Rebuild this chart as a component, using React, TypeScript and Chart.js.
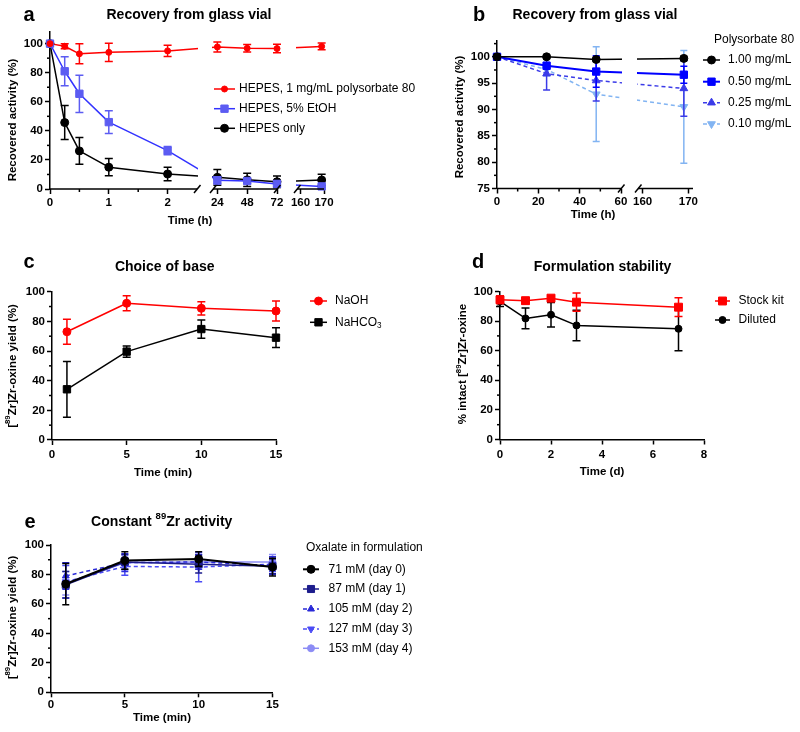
import React, { useEffect, useRef } from 'react';
import { Chart, registerables, LinearScale } from 'chart.js';

Chart.register(...registerables);

const FONT = '"Liberation Sans", Arial, Helvetica, sans-serif';
Chart.defaults.font.family = FONT;

// ---------------- Panel a : Recovery from glass vial ----------------
const A_TIME_H = [0, 0.25, 0.5, 1, 2, 24, 48, 72, 169];
const A_POLYSORBATE = [100, 98.2, 93, 94, 95, 97.7, 96.8, 96.6, 98.1];
const A_POLYSORBATE_ERR = [0, 1.8, 6.9, 6.3, 3.9, 3.5, 2.6, 2.9, 2.3];
const A_ETOH = [100, 81, 65.5, 46, 26.4, 6, 5.5, 3.5, 1.8];
const A_ETOH_ERR = [0, 10, 12.8, 7.8, 2.9, 2.5, 1.5, 2, 1];
const A_HEPES = [100, 45.7, 26.2, 15, 10.3, 8, 6.3, 5, 6.2];
const A_HEPES_ERR = [0, 11.7, 9.2, 5.9, 4.6, 5.5, 4.5, 4, 4];
const A_X_TICKS = [0, 1, 2, 24, 48, 72, 160, 170];
const A_X_MINOR = [0.5, 1.5];
const A_Y_TICKS = [0, 20, 40, 60, 80, 100];
const A_Y_MINOR = [10, 30, 50, 70, 90];

// ---------------- Panel b : Recovery from glass vial (polysorbate 80) ----------------
const B_TIME_H = [0, 24, 48, 169];
const B_PS_100 = [100, 100, 99.5, 99.7];
const B_PS_100_ERR = [0, 0.3, 0.4, 0.4];
const B_PS_050 = [100, 98.3, 97.2, 96.6];
const B_PS_050_ERR = [0, 0.6, 3, 1.6];
const B_PS_025 = [100, 96.8, 95.5, 94.0];
const B_PS_025_ERR = [0, 3.1, 3.9, 5.3];
const B_PS_010 = [100, 97.6, 92.9, 90.5];
const B_PS_010_ERR = [0, 1.2, 9, 10.7];
const B_X_TICKS = [0, 20, 40, 60, 160, 170];
const B_X_MINOR = [10, 30, 50];
const B_Y_TICKS = [75, 80, 85, 90, 95, 100];
const B_Y_MINOR = [77.5, 82.5, 87.5, 92.5, 97.5, 102.5];

// ---------------- Panel c : Choice of base ----------------
const C_TIME_MIN = [1, 5, 10, 15];
const C_NAOH = [73, 92.2, 88.8, 87];
const C_NAOH_ERR = [8.4, 5, 4.5, 6.7];
const C_NAHCO3 = [34.2, 59.6, 74.8, 69];
const C_NAHCO3_ERR = [18.8, 3.8, 6.2, 6.7];
const C_X_TICKS = [0, 5, 10, 15];

// ---------------- Panel d : Formulation stability ----------------
const D_TIME_D = [0, 1, 2, 3, 7];
const D_STOCK = [94.4, 93.8, 95.5, 92.8, 89.4];
const D_STOCK_ERR = [2.5, 2, 1.5, 6.2, 6.3];
const D_DILUTED = [93.3, 81.8, 84.3, 77.1, 74.8];
const D_DILUTED_ERR = [3.5, 7, 8.3, 10.3, 14.9];
const D_X_TICKS = [0, 2, 4, 6, 8];

// ---------------- Panel e : Constant 89Zr activity ----------------
const E_TIME_MIN = [1, 5, 10, 15];
const E_DAY0 = [73.5, 89.5, 90.5, 85];
const E_DAY0_ERR = [14, 6, 5, 6];
const E_DAY1 = [73, 88.5, 87, 85.5];
const E_DAY1_ERR = [9, 5, 6, 5];
const E_DAY2 = [79, 88, 88.5, 86];
const E_DAY2_ERR = [9, 6, 5, 6];
const E_DAY3 = [75, 85.5, 85, 87];
const E_DAY3_ERR = [11, 6, 10, 5];
const E_DAY4 = [74, 88, 88.5, 88.5];
const E_DAY4_ERR = [8, 5, 5, 5];

const Y_TICKS_100 = [0, 20, 40, 60, 80, 100];
const Y_MINOR_100 = [10, 30, 50, 70, 90];

// broken-axis segments: [valueMin, valueMax, fractionStart, fractionEnd] of the axis length
const A_SEGS = [[0, 2.5, 0, 147 / 274], [20.5, 72, 163 / 274, 227 / 274], [158.5, 170, 247 / 274, 1]];
const B_SEGS = [[0, 60, 0, 124 / 196], [159, 171, 141 / 196, 1]];

function valueToFraction(segs: number[][], v: number) {
  const n = segs.length;
  for (let i = 0; i < n; i++) {
    const [a, b, fa, fb] = segs[i];
    if (v <= b || i === n - 1) {
      if (v >= a || i === 0) return fa + ((v - a) / (b - a)) * (fb - fa);
      const pb = segs[i - 1][1];
      const pfb = segs[i - 1][3];
      return pfb + ((v - pb) / (a - pb)) * (fa - pfb);
    }
  }
  return 1;
}

function makeBrokenScale(id: string, segs: number[][]) {
  class BrokenScale extends (LinearScale as any) {
    static id = id;
    static defaults = (LinearScale as any).defaults;
    getPixelForValue(value: number) {
      if (value === null || value === undefined || Number.isNaN(value)) return NaN;
      return (this as any).getPixelForDecimal(valueToFraction(segs, value));
    }
  }
  return BrokenScale;
}
Chart.register(makeBrokenScale('brokenA', A_SEGS) as any, makeBrokenScale('brokenB', B_SEGS) as any);

type Series = {
  label: string; x: number[]; y: number[]; err: number[];
  line: string; marker: string; style: string; r: number; lw: number; dash?: number[];
};
const S = (label: string, x: number[], y: number[], err: number[], line: string, marker: string,
  style: string, r: number, lw: number, dash?: number[]): Series => ({ label, x, y, err, line, marker, style, r, lw, dash });

type TextItem = { text: string; x: number; y: number; size: number; bold?: boolean; align?: string; rot?: number };
const T = (text: string, x: number, y: number, size: number, bold = true, align = 'center', rot = 0): TextItem =>
  ({ text, x, y, size, bold, align, rot });

const ROT = -Math.PI / 2;

const PANELS: any[] = [
  {
    area: { left: 50, top: 32, right: 324, bottom: 189 },
    xType: 'brokenA', segs: A_SEGS, xMin: 0, xMax: 170, xTicks: A_X_TICKS, xMinor: A_X_MINOR, xPad: 2,
    yMin: 0, yMax: 108, yTicks: A_Y_TICKS, yMinor: A_Y_MINOR, cap: 4,
    series: [
      S('HEPES, 1 mg/mL polysorbate 80', A_TIME_H, A_POLYSORBATE, A_POLYSORBATE_ERR, '#ff0000', '#ff0000', 'circle', 3, 1.5),
      S('HEPES, 5% EtOH', A_TIME_H, A_ETOH, A_ETOH_ERR, '#3333ff', '#5c5cf2', 'rect', 5.2, 1.5),
      S('HEPES only', A_TIME_H, A_HEPES, A_HEPES_ERR, '#000000', '#000000', 'circle', 4, 1.5),
    ],
    legend: { x0: 214, x1: 235, tx: 239, rows: [89, 108.7, 128.3] },
    texts: [
      T('a', 29, 15, 20),
      T('Recovery from glass vial', 189, 15.5, 14),
      T('Recovered activity (%)', 13, 120, 11.5, true, 'center', ROT),
      T('Time (h)', 190, 221, 11.5),
    ],
  },
  {
    area: { left: 497, top: 41, right: 693, bottom: 188.5 },
    xType: 'brokenB', segs: B_SEGS, xMin: 0, xMax: 171, xTicks: B_X_TICKS, xMinor: B_X_MINOR, xPad: 1,
    yMin: 75, yMax: 103, yTicks: B_Y_TICKS, yMinor: B_Y_MINOR, cap: 3.5,
    series: [
      S('1.00 mg/mL', B_TIME_H, B_PS_100, B_PS_100_ERR, '#000000', '#000000', 'circle', 4, 1.5),
      S('0.50 mg/mL', B_TIME_H, B_PS_050, B_PS_050_ERR, '#0000ff', '#0000ff', 'rect', 5.2, 2),
      S('0.25 mg/mL', B_TIME_H, B_PS_025, B_PS_025_ERR, '#3b3be8', '#3b3be8', 'triangle', 4.5, 1.5, [4, 3]),
      S('0.10 mg/mL', B_TIME_H, B_PS_010, B_PS_010_ERR, '#82b4f2', '#82b4f2', 'triangleDown', 4.5, 1.5, [4, 3]),
    ],
    legend: { x0: 703, x1: 720, tx: 728, rows: [60, 81.7, 102.7, 124], title: 'Polysorbate 80', titleX: 714, titleY: 40 },
    texts: [
      T('b', 479, 15, 20),
      T('Recovery from glass vial', 595, 15.5, 14),
      T('Recovered activity (%)', 460, 117, 11.5, true, 'center', ROT),
      T('Time (h)', 593, 215, 11.5),
    ],
  },
  {
    area: { left: 52, top: 291.7, right: 276, bottom: 440 },
    xType: 'linear', xMin: 0, xMax: 15, xTicks: C_X_TICKS, xMinor: [], xPad: 3,
    yMin: 0, yMax: 100, yTicks: Y_TICKS_100, yMinor: Y_MINOR_100, cap: 4,
    series: [
      S('NaOH', C_TIME_MIN, C_NAOH, C_NAOH_ERR, '#ff0000', '#ff0000', 'circle', 4, 1.5),
      S('NaHCO_{3}', C_TIME_MIN, C_NAHCO3, C_NAHCO3_ERR, '#000000', '#000000', 'rect', 5.2, 1.5),
    ],
    legend: { x0: 310, x1: 327, tx: 335, rows: [301, 322.3] },
    texts: [
      T('c', 29, 262, 20),
      T('Choice of base', 164.7, 266.7, 14),
      T('[^{89}Zr]Zr-oxine yield (%)', 12.5, 366, 11.5, true, 'center', ROT),
      T('Time (min)', 163, 472.5, 11.5),
    ],
  },
  {
    area: { left: 500, top: 291.5, right: 704, bottom: 439.5 },
    xType: 'linear', xMin: 0, xMax: 8, xTicks: D_X_TICKS, xMinor: [], xPad: 3,
    yMin: 0, yMax: 100, yTicks: Y_TICKS_100, yMinor: Y_MINOR_100, cap: 4,
    series: [
      S('Stock kit', D_TIME_D, D_STOCK, D_STOCK_ERR, '#ff0000', '#ff0000', 'rect', 5.6, 1.5),
      S('Diluted', D_TIME_D, D_DILUTED, D_DILUTED_ERR, '#000000', '#000000', 'circle', 3.5, 1.5),
    ],
    legend: { x0: 715, x1: 730, tx: 738.5, rows: [301, 320] },
    texts: [
      T('d', 478, 262, 20),
      T('Formulation stability', 602.5, 266.7, 14),
      T('% intact [^{89}Zr]Zr-oxine', 463, 364, 11.5, true, 'center', ROT),
      T('Time (d)', 602, 472, 11.5),
    ],
  },
  {
    area: { left: 51, top: 545, right: 272.5, bottom: 692.3 },
    xType: 'linear', xMin: 0, xMax: 15, xTicks: C_X_TICKS, xMinor: [], xPad: 1,
    yMin: 0, yMax: 100, yTicks: Y_TICKS_100, yMinor: Y_MINOR_100, cap: 3.5,
    series: [
      S('71 mM (day 0)', E_TIME_MIN, E_DAY0, E_DAY0_ERR, '#000000', '#000000', 'circle', 4, 2),
      S('87 mM (day 1)', E_TIME_MIN, E_DAY1, E_DAY1_ERR, '#1c1c8c', '#1c1c8c', 'rect', 5, 1.5),
      S('105 mM (day 2)', E_TIME_MIN, E_DAY2, E_DAY2_ERR, '#2a2ad8', '#2a2ad8', 'triangle', 4, 1.5, [4, 3]),
      S('127 mM (day 3)', E_TIME_MIN, E_DAY3, E_DAY3_ERR, '#4b4bf5', '#4b4bf5', 'triangleDown', 4, 1.5, [4, 3]),
      S('153 mM (day 4)', E_TIME_MIN, E_DAY4, E_DAY4_ERR, '#8c8cf5', '#8c8cf5', 'circle', 3.5, 1.5),
    ],
    legend: { x0: 303, x1: 319, tx: 328.5, rows: [569.3, 589, 609, 629, 648.3], title: 'Oxalate in formulation', titleX: 306, titleY: 547.3 },
    texts: [
      T('e', 30, 522.7, 20),
      T('Constant ^{89}Zr activity', 161.7, 521.7, 14),
      T('[^{89}Zr]Zr-oxine yield (%)', 12.5, 617.5, 11.5, true, 'center', ROT),
      T('Time (min)', 162, 718.3, 11.5),
    ],
  },
];

function parseRich(s: string) {
  return s.split(/(\^\{[^}]*\}|_\{[^}]*\})/).filter((p) => p.length > 0).map((p) =>
    p.startsWith('^{') ? { t: p.slice(2, -1), k: 'sup' } : p.startsWith('_{') ? { t: p.slice(2, -1), k: 'sub' } : { t: p, k: 'n' });
}

function drawText(ctx: CanvasRenderingContext2D, it: TextItem) {
  const runs = parseRich(it.text);
  const w = it.bold ? 'bold ' : '';
  const fontFor = (r: any) => `${w}${r.k === 'n' ? it.size : it.size * 0.68}px ${FONT}`;
  let total = 0;
  const widths = runs.map((r) => { ctx.font = fontFor(r); const m = ctx.measureText(r.t).width; total += m; return m; });
  ctx.save();
  ctx.translate(it.x, it.y);
  if (it.rot) ctx.rotate(it.rot);
  ctx.fillStyle = '#000';
  ctx.textBaseline = 'middle';
  ctx.textAlign = 'left';
  let cx = it.align === 'center' ? -total / 2 : it.align === 'right' ? -total : 0;
  runs.forEach((r, i) => {
    ctx.font = fontFor(r);
    const dy = r.k === 'sup' ? -it.size * 0.38 : r.k === 'sub' ? it.size * 0.3 : 0;
    ctx.fillText(r.t, cx, dy);
    cx += widths[i];
  });
  ctx.restore();
}

function drawMarker(ctx: CanvasRenderingContext2D, style: string, x: number, y: number, r: number, color: string) {
  ctx.save();
  ctx.fillStyle = color;
  ctx.strokeStyle = color;
  ctx.lineWidth = 1;
  ctx.beginPath();
  if (style === 'circle') {
    ctx.arc(x, y, r, 0, Math.PI * 2);
  } else if (style === 'rect') {
    const h = r * Math.SQRT1_2;
    ctx.rect(x - h, y - h, 2 * h, 2 * h);
  } else {
    let rad = style === 'triangleDown' ? Math.PI : 0;
    for (let k = 0; k < 3; k++) {
      const px = x + Math.sin(rad) * r;
      const py = y - Math.cos(rad) * r;
      if (k === 0) ctx.moveTo(px, py); else ctx.lineTo(px, py);
      rad += (2 * Math.PI) / 3;
    }
    ctx.closePath();
  }
  ctx.fill();
  ctx.stroke();
  ctx.restore();
}

function seg(ctx: CanvasRenderingContext2D, x0: number, y0: number, x1: number, y1: number) {
  ctx.beginPath();
  ctx.moveTo(x0, y0);
  ctx.lineTo(x1, y1);
  ctx.stroke();
}

function panelPlugin(p: any) {
  return {
    id: 'panelDecor',
    beforeDatasetDraw(chart: any, args: any) {
      const ds = chart.data.datasets[args.index];
      const ctx = chart.ctx as CanvasRenderingContext2D;
      if (ds.kind === 'line' && p.segs) {
        const xs = chart.scales.x;
        ctx.save();
        ctx.beginPath();
        p.segs.forEach((g: number[], i: number) => {
          const x0 = i === 0 ? 0 : xs.getPixelForDecimal(g[2]) - 1;
          const x1 = i === p.segs.length - 1 ? chart.width : xs.getPixelForDecimal(g[3]) + 1;
          ctx.rect(x0, 0, x1 - x0, chart.height);
        });
        ctx.clip();
      }
      if (ds.kind === 'markers') {
        const meta = chart.getDatasetMeta(args.index);
        const ys = chart.scales.y;
        ctx.save();
        ctx.strokeStyle = ds.errColor;
        ctx.lineWidth = 1.5;
        meta.data.forEach((pt: any, i: number) => {
          const e = ds.errs[i];
          if (!e) return;
          const v = ds.data[i].y;
          const top = ys.getPixelForValue(v + e);
          const bot = ys.getPixelForValue(v - e);
          ctx.beginPath();
          ctx.moveTo(pt.x, top); ctx.lineTo(pt.x, bot);
          ctx.moveTo(pt.x - p.cap, top); ctx.lineTo(pt.x + p.cap, top);
          ctx.moveTo(pt.x - p.cap, bot); ctx.lineTo(pt.x + p.cap, bot);
          ctx.stroke();
        });
        ctx.restore();
      }
    },
    afterDatasetDraw(chart: any, args: any) {
      const ds = chart.data.datasets[args.index];
      if (ds.kind === 'line' && p.segs) chart.ctx.restore();
    },
    afterDraw(chart: any) {
      const ctx = chart.ctx as CanvasRenderingContext2D;
      const xs = chart.scales.x;
      const ys = chart.scales.y;
      const { left, bottom } = chart.chartArea;
      ctx.save();
      ctx.strokeStyle = '#000';
      ctx.lineWidth = 1.5;
      p.yMinor.forEach((v: number) => { const y = ys.getPixelForValue(v); seg(ctx, left - 3, y, left, y); });
      p.xMinor.forEach((v: number) => { const x = xs.getPixelForValue(v); seg(ctx, x, bottom, x, bottom + 3); });
      if (p.segs) {
        const n = p.segs.length;
        p.segs.forEach((g: number[], i: number) => {
          const x0 = xs.getPixelForDecimal(g[2]);
          const x1 = xs.getPixelForDecimal(g[3]);
          seg(ctx, x0, bottom, x1, bottom);
          if (i < n - 1) seg(ctx, x1 - 3, bottom + 4, x1 + 3.5, bottom - 4);
          if (i > 0) seg(ctx, x0 - 3, bottom + 4, x0 + 3.5, bottom - 4);
        });
      }
      ctx.restore();
      p.texts.forEach((t: TextItem) => drawText(ctx, t));
      const L = p.legend;
      if (L.title) drawText(ctx, { text: L.title, x: L.titleX, y: L.titleY, size: 12, bold: false, align: 'left' });
      p.series.forEach((s: Series, i: number) => {
        const y = L.rows[i];
        ctx.save();
        ctx.strokeStyle = s.line;
        ctx.lineWidth = s.lw;
        ctx.setLineDash(s.dash || []);
        seg(ctx, L.x0, y, L.x1, y);
        ctx.restore();
        drawMarker(ctx, s.style, (L.x0 + L.x1) / 2, y, s.r, s.marker);
        drawText(ctx, { text: s.label, x: L.tx, y, size: 12, bold: false, align: 'left' });
      });
    },
  };
}

function buildConfig(p: any): any {
  const YW = 45;
  const XH = 25;
  const pts = (s: Series) => s.x.map((xv, i) => ({ x: xv, y: s.y[i] }));
  const markerSets = p.series.map((s: Series) => ({
    kind: 'markers', errs: s.err, errColor: s.marker,
    data: pts(s), showLine: false,
    pointRadius: s.r,
    pointStyle: s.style === 'triangleDown' ? 'triangle' : s.style,
    pointRotation: s.style === 'triangleDown' ? 180 : 0,
    pointBackgroundColor: s.marker, pointBorderColor: s.marker, pointBorderWidth: 1,
    clip: false,
  }));
  const lineSets = p.series.map((s: Series) => ({
    kind: 'line', data: pts(s),
    borderColor: s.line, borderWidth: s.lw, borderDash: s.dash || [],
    borderJoinStyle: 'round', pointRadius: 0, fill: false, tension: 0, clip: false,
  }));
  const tickFont = { family: FONT, size: 11.5, weight: 'bold' };
  const zeroPad = (s: any) => { s.paddingLeft = 0; s.paddingRight = 0; s.paddingTop = 0; s.paddingBottom = 0; };
  return {
    type: 'line',
    data: { datasets: [...markerSets, ...lineSets] },
    plugins: [panelPlugin(p)],
    options: {
      responsive: false,
      animation: false,
      devicePixelRatio: 1,
      events: [],
      layout: {
        padding: {
          left: p.area.left - YW,
          top: p.area.top,
          right: 800 - p.area.right,
          bottom: 732 - p.area.bottom - XH,
        },
      },
      plugins: { legend: { display: false }, tooltip: { enabled: false }, title: { display: false } },
      scales: {
        x: {
          type: p.xType,
          min: p.xMin,
          max: p.xMax,
          afterBuildTicks: (s: any) => { s.ticks = p.xTicks.map((v: number) => ({ value: v })); },
          afterFit: (s: any) => { s.height = XH; zeroPad(s); },
          grid: { display: true, drawOnChartArea: false, drawTicks: true, tickLength: 5, tickWidth: 1.5, tickColor: '#000' },
          border: { display: !p.segs, color: '#000', width: 1.5 },
          ticks: { autoSkip: false, maxRotation: 0, minRotation: 0, padding: p.xPad, color: '#000', font: tickFont, callback: (v: any) => String(v) },
        },
        y: {
          type: 'linear',
          min: p.yMin,
          max: p.yMax,
          afterBuildTicks: (s: any) => { s.ticks = p.yTicks.map((v: number) => ({ value: v })); },
          afterFit: (s: any) => { s.width = YW; zeroPad(s); },
          grid: { display: true, drawOnChartArea: false, drawTicks: true, tickLength: 5, tickWidth: 1.5, tickColor: '#000' },
          border: { display: true, color: '#000', width: 1.5 },
          ticks: { autoSkip: false, padding: 2, color: '#000', font: tickFont, callback: (v: any) => String(v) },
        },
      },
    },
  };
}

function PanelChart({ cfg }: { cfg: any }) {
  const ref = useRef<HTMLCanvasElement>(null);
  useEffect(() => {
    const chart = new Chart(ref.current as HTMLCanvasElement, buildConfig(cfg));
    return () => chart.destroy();
  }, [cfg]);
  return (
    <canvas
      ref={ref}
      width={800}
      height={732}
      style={{ position: 'absolute', left: 0, top: 0, width: 800, height: 732 }}
    />
  );
}

export default function App() {
  return (
    <div style={{ position: 'absolute', left: 0, top: 0, width: 800, height: 732, background: '#fff', overflow: 'hidden' }}>
      {PANELS.map((p, i) => (
        <PanelChart key={i} cfg={p} />
      ))}
    </div>
  );
}
